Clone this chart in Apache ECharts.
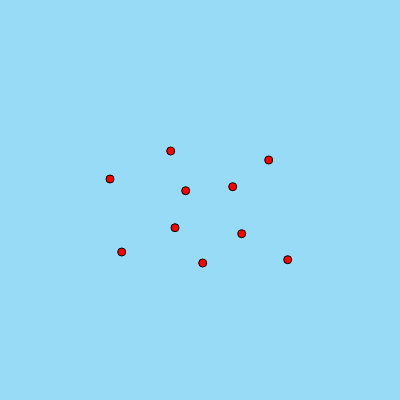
<!DOCTYPE html>
<html><head><meta charset="utf-8">
<script src="https://cdn.jsdelivr.net/npm/echarts@6/dist/echarts.min.js"></script>
<style>html,body{margin:0;padding:0;background:#98dbf7}#c{width:400px;height:400px}</style>
</head><body><div id="c"></div>
<script>
var xValues = [110, 170.7, 185.7, 268.7, 232.7, 241.7, 202.7, 287.7, 175, 121.7];
var yValues = [179, 151, 190.7, 160, 186.7, 233.7, 263, 259.7, 227.7, 252];
var data = xValues.map(function(x, i){ return [x, yValues[i]]; });
var chart = echarts.init(document.getElementById('c'));
chart.setOption({
  backgroundColor: '#98dbf7',
  animation: false,
  grid: {left: 0, right: 0, top: 0, bottom: 0},
  xAxis: {type: 'value', min: 0, max: 400, show: false},
  yAxis: {type: 'value', min: 0, max: 400, inverse: true, show: false},
  series: [{
    type: 'scatter',
    data: data,
    symbolSize: 8,
    itemStyle: {color: '#ff0000', borderColor: '#000', borderWidth: 1, opacity: 1}
  }]
});
</script></body></html>
